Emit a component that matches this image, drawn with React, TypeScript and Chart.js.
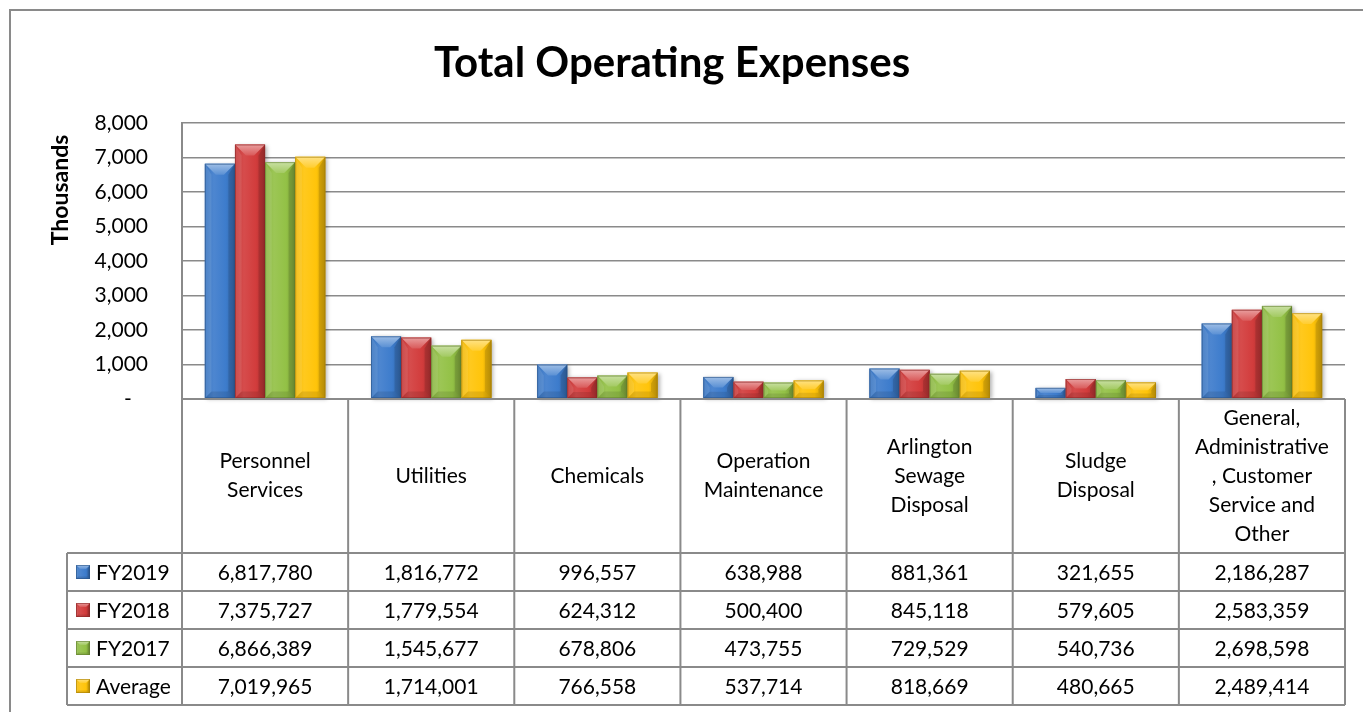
import React, { useEffect, useRef } from "react";
import { Chart, registerables } from "chart.js";

Chart.register(...registerables);

const FONT = "Lato, 'Open Sans', sans-serif";

const chartTitle = "Total Operating Expenses";
const yAxisTitle = "Thousands";

const categories: string[][] = [
  ["Personnel", "Services"],
  ["Utilities"],
  ["Chemicals"],
  ["Operation", "Maintenance"],
  ["Arlington", "Sewage", "Disposal"],
  ["Sludge", "Disposal"],
  ["General,", "Administrative", ", Customer", "Service and", "Other"],
];

const seriesNames = ["FY2019", "FY2018", "FY2017", "Average"];
const seriesColors = ["#3d7ccc", "#d23c3c", "#93c146", "#ffc40a"];

const fy2019 = [6817780, 1816772, 996557, 638988, 881361, 321655, 2186287];
const fy2018 = [7375727, 1779554, 624312, 500400, 845118, 579605, 2583359];
const fy2017 = [6866389, 1545677, 678806, 473755, 729529, 540736, 2698598];
const average = [7019965, 1714001, 766558, 537714, 818669, 480665, 2489414];

const seriesValues = [fy2019, fy2018, fy2017, average];

const yMin = 0;
const yMax = 8000;
const yStep = 1000;

const LINE = "#8a8a8a";

function hexToRgb(hex: string) {
  const h = hex.replace("#", "");
  return [parseInt(h.slice(0, 2), 16), parseInt(h.slice(2, 4), 16), parseInt(h.slice(4, 6), 16)];
}
function mix(hex: string, t: number, a = 1) {
  const [r, g, b] = hexToRgb(hex);
  const target = t >= 0 ? 255 : 0;
  const k = Math.abs(t);
  const f = (c: number) => Math.round(c + (target - c) * k);
  return `rgba(${f(r)},${f(g)},${f(b)},${a})`;
}

function drawBevelRect(
  ctx: CanvasRenderingContext2D,
  L: number,
  T: number,
  W: number,
  H: number,
  color: string,
  bevel: number,
  shadow: boolean
) {
  if (W <= 0 || H <= 0) return;
  const R = L + W;
  const B = T + H;
  const b = Math.min(bevel, W / 2, H / 2);
  ctx.save();
  if (shadow) {
    ctx.shadowColor = "rgba(0,0,0,0.3)";
    ctx.shadowBlur = 4;
    ctx.shadowOffsetX = 2;
    ctx.shadowOffsetY = 1;
  }
  const g = ctx.createLinearGradient(L, 0, R, 0);
  g.addColorStop(0, mix(color, -0.06));
  g.addColorStop(0.3, mix(color, 0.08));
  g.addColorStop(0.7, mix(color, 0));
  g.addColorStop(1, mix(color, -0.2));
  ctx.fillStyle = g;
  ctx.fillRect(L, T, W, H);
  ctx.restore();

  ctx.save();
  // top facet
  const gt = ctx.createLinearGradient(0, T, 0, T + b);
  gt.addColorStop(0, mix(color, 0.5));
  gt.addColorStop(1, mix(color, 0.15));
  ctx.fillStyle = gt;
  ctx.beginPath();
  ctx.moveTo(L, T);
  ctx.lineTo(R, T);
  ctx.lineTo(R - b, T + b);
  ctx.lineTo(L + b, T + b);
  ctx.closePath();
  ctx.fill();
  // left facet
  ctx.fillStyle = "rgba(255,255,255,0.1)";
  ctx.beginPath();
  ctx.moveTo(L, T);
  ctx.lineTo(L + b * 0.6, T + b);
  ctx.lineTo(L + b * 0.6, B - b * 0.6);
  ctx.lineTo(L, B);
  ctx.closePath();
  ctx.fill();
  // right facet
  ctx.fillStyle = "rgba(0,0,0,0.12)";
  ctx.beginPath();
  ctx.moveTo(R, T);
  ctx.lineTo(R - b * 0.6, T + b);
  ctx.lineTo(R - b * 0.6, B - b * 0.6);
  ctx.lineTo(R, B);
  ctx.closePath();
  ctx.fill();
  // bottom facet
  ctx.fillStyle = "rgba(0,0,0,0.1)";
  ctx.beginPath();
  ctx.moveTo(L, B);
  ctx.lineTo(R, B);
  ctx.lineTo(R - b * 0.6, B - b * 0.6);
  ctx.lineTo(L + b * 0.6, B - b * 0.6);
  ctx.closePath();
  ctx.fill();
  // outline
  ctx.strokeStyle = mix(color, -0.35, 0.6);
  ctx.lineWidth = 1;
  ctx.strokeRect(L + 0.5, T + 0.5, W - 1, H - 1);
  ctx.restore();
}

const bevelBarsPlugin = {
  id: "bevelBars",
  afterDatasetsDraw(chart: any) {
    const ctx: CanvasRenderingContext2D = chart.ctx;
    chart.data.datasets.forEach((ds: any, di: number) => {
      const meta = chart.getDatasetMeta(di);
      meta.data.forEach((el: any) => {
        const { x, y, base, width } = el.getProps(["x", "y", "base", "width"], true);
        const T = Math.min(y, base);
        const H = Math.abs(base - y);
        drawBevelRect(ctx, x - width / 2, T, width, H, seriesColors[di], 11, true);
      });
    });
  },
};

const decorPlugin = {
  id: "decor",
  afterDraw(chart: any) {
    const ctx: CanvasRenderingContext2D = chart.ctx;
    const area = chart.chartArea;
    ctx.save();

    // outer border
    ctx.strokeStyle = LINE;
    ctx.lineWidth = 2;
    ctx.strokeRect(10, 10, chart.width + 10, chart.height + 10);

    // title
    ctx.fillStyle = "#000";
    ctx.font = `bold 42px ${FONT}`;
    ctx.textAlign = "center";
    ctx.textBaseline = "alphabetic";
    ctx.fillText(chartTitle, 672, 77);

    // y axis title
    ctx.save();
    ctx.translate(68, 190);
    ctx.rotate(-Math.PI / 2);
    ctx.font = `bold 23px ${FONT}`;
    ctx.textAlign = "center";
    ctx.fillText(yAxisTitle, 0, 0);
    ctx.restore();

    // data table
    const n = categories.length;
    const left = area.left;
    const right = area.right;
    const colW = (right - left) / n;
    const top = area.bottom;
    const labelRowH = 154;
    const rowH = 38;
    const keyLeft = 67;
    const rowsTop = top + labelRowH;
    const bottom = rowsTop + rowH * seriesNames.length;

    ctx.strokeStyle = LINE;
    ctx.lineWidth = 2;
    ctx.beginPath();
    ctx.moveTo(left, top);
    ctx.lineTo(right, top);
    for (let r = 0; r <= seriesNames.length; r++) {
      const yy = rowsTop + r * rowH;
      ctx.moveTo(keyLeft, yy);
      ctx.lineTo(right, yy);
    }
    for (let c = 0; c <= n; c++) {
      const xx = left + c * colW;
      ctx.moveTo(xx, top);
      ctx.lineTo(xx, bottom);
    }
    ctx.moveTo(keyLeft, rowsTop);
    ctx.lineTo(keyLeft, bottom);
    ctx.stroke();

    ctx.fillStyle = "#000";
    ctx.font = `21px ${FONT}`;
    ctx.textAlign = "center";
    ctx.textBaseline = "middle";
    const lineH = 29;
    categories.forEach((lines, c) => {
      const cx = left + (c + 0.5) * colW;
      const cy = top + labelRowH / 2;
      const start = cy - ((lines.length - 1) * lineH) / 2;
      lines.forEach((ln, i) => ctx.fillText(ln, cx, start + i * lineH));
    });

    seriesNames.forEach((name, r) => {
      const cy = rowsTop + r * rowH + rowH / 2;
      drawBevelRect(ctx, 76, cy - 7, 14, 14, seriesColors[r], 4, false);
      ctx.fillStyle = "#000";
      ctx.textAlign = "left";
      ctx.fillText(name, 96, cy + 1);
      ctx.textAlign = "center";
      seriesValues[r].forEach((v, c) => {
        const cx = left + (c + 0.5) * colW;
        ctx.fillText(v.toLocaleString("en-US"), cx, cy + 1);
      });
    });

    ctx.restore();
  },
};

export default function App() {
  const ref = useRef<HTMLCanvasElement | null>(null);
  useEffect(() => {
    if (!ref.current) return;
    const chart = new Chart(ref.current, {
      type: "bar",
      data: {
        labels: categories.map((c) => c.join(" ")),
        datasets: seriesNames.map((name, i) => ({
          label: name,
          data: seriesValues[i].map((v) => v / 1000),
          backgroundColor: seriesColors[i],
          borderWidth: 0,
          categoryPercentage: 0.725,
          barPercentage: 1,
        })),
      },
      options: {
        animation: false,
        responsive: true,
        maintainAspectRatio: false,
        layout: { padding: { left: 0, top: 123, right: 18, bottom: 313 } },
        plugins: {
          legend: { display: false },
          tooltip: { enabled: false },
          title: { display: false },
        },
        scales: {
          x: { display: false },
          y: {
            min: yMin,
            max: yMax,
            afterFit(scale: any) {
              scale.width = 182;
            },
            ticks: {
              stepSize: yStep,
              padding: 34,
              color: "#000",
              font: { family: FONT, size: 21 },
              callback: (v: any) => (Number(v) === 0 ? "-   " : Number(v).toLocaleString("en-US")),
            },
            grid: { color: LINE, lineWidth: 1.6, drawTicks: false, tickLength: 0 },
            border: { display: true, color: LINE, width: 2 },
          },
        },
      },
      plugins: [bevelBarsPlugin, decorPlugin],
    });
    return () => chart.destroy();
  }, []);
  return (
    <div style={{ position: "fixed", left: 0, top: 0, width: 1363, height: 712, overflow: "hidden", background: "#fff" }}>
      <canvas ref={ref} />
    </div>
  );
}
